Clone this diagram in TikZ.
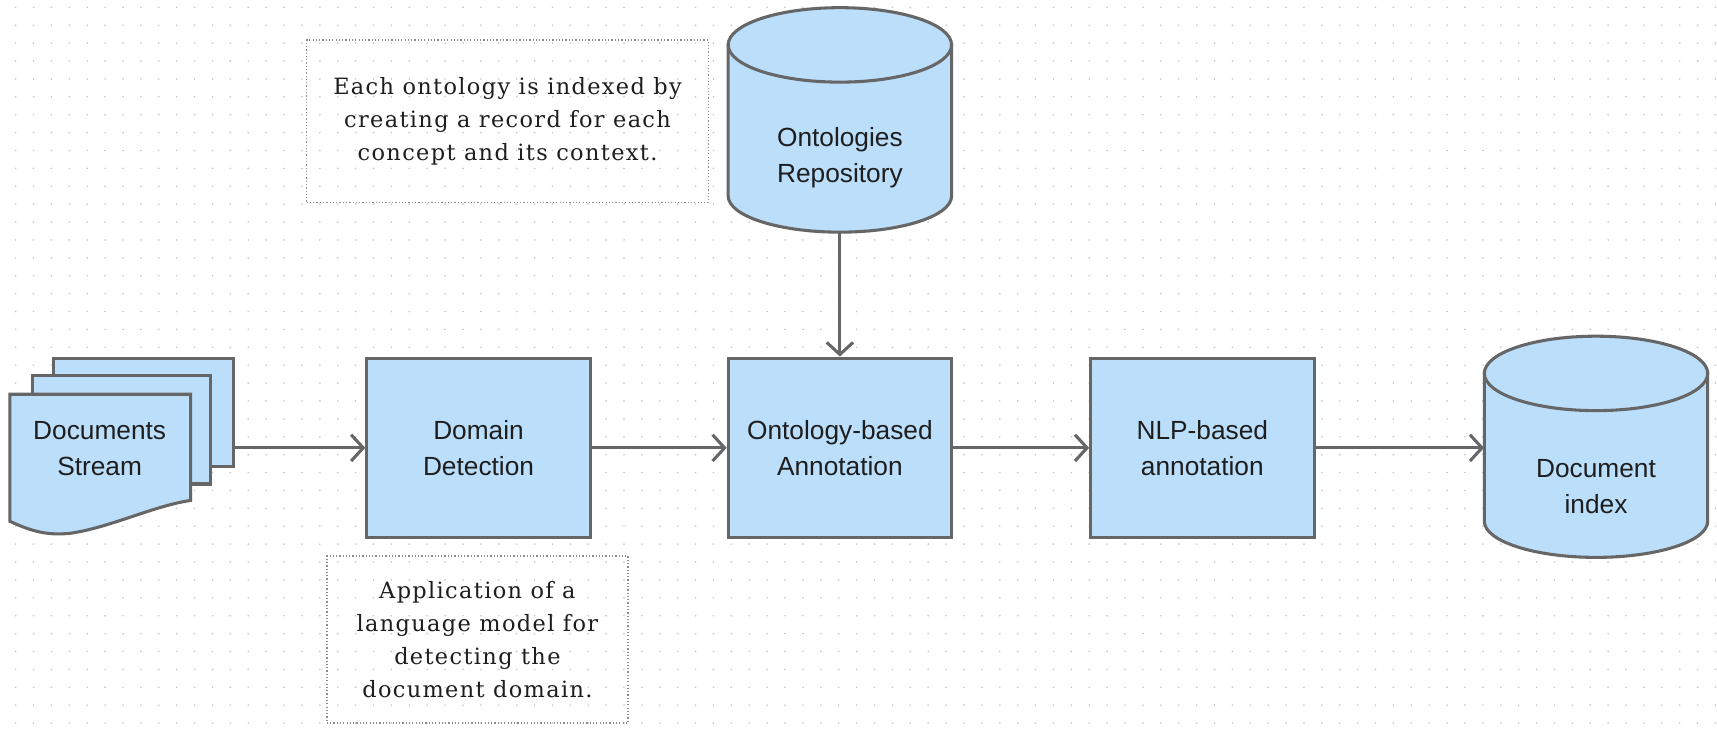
\documentclass[tikz,border=0pt]{standalone}
\usepackage{fontspec}
\setmainfont{Liberation Serif}
\newfontfamily\boxfont{Liberation Sans}
\newfontfamily\notefont[LetterSpace=6]{DejaVu Serif}
\usetikzlibrary{arrows.meta}
\definecolor{fillblue}{RGB}{187,222,251}
\definecolor{edgecol}{RGB}{102,102,102}
\definecolor{gridcol}{RGB}{200,200,200}
\definecolor{notecol}{RGB}{140,140,140}
\definecolor{txtcol}{RGB}{30,30,30}
\tikzset{
  shapeline/.style={draw=edgecol, line width=2.8pt, fill=fillblue, line join=miter},
  procbox/.style={shapeline, rectangle, minimum width=204pt, minimum height=164pt, inner sep=0pt,
    align=center, text=txtcol, font=\boxfont\fontsize{24}{33}\selectfont},
  sheet/.style={shapeline, rectangle, inner sep=0pt},
  boxlabel/.style={align=center, text=txtcol, font=\boxfont\fontsize{24}{33}\selectfont, inner sep=0pt},
  notebox/.style={draw=notecol, line width=1.3pt, dash pattern=on 1.1pt off 1.9pt, rectangle,
    inner sep=0pt, align=center, text=txtcol, font=\notefont\fontsize{20.5}{30}\selectfont},
  flow/.style={draw=edgecol, line width=2.8pt, -{Straight Barb[length=11pt,width=24pt,line width=2.8pt]}},
  holder/.style={rectangle, inner sep=0pt, draw=none}
}
\begin{document}
\begin{tikzpicture}[x=1pt,y=-1pt]
% canvas
\fill[white] (0,0) rectangle (1568,665);
\useasboundingbox (0,0) rectangle (1568,665);
% dotted grid
\foreach \i in {0,...,95}{
  \foreach \j in {0,...,40}{
    \fill[gridcol] (14.3+\i*16.34, 6.7+\j*16.34) circle[radius=0.85pt];
  }
}
% notes
\node[notebox, minimum width=367pt, minimum height=148.5pt] (note1) at (463.5,110.8)
  {Each ontology is indexed by\\creating a record for each\\concept and its context.};
\node[notebox, minimum width=275pt, minimum height=152.5pt] (note2) at (436,584)
  {Application of a\\language model for\\detecting the\\document domain.};
% documents stream
\node[sheet, minimum width=164pt, minimum height=99pt] (back) at (131,376.5) {};
\node[sheet, minimum width=162.4pt, minimum height=99pt] (mid) at (110.8,392.5) {};
\path[shapeline] (9,360) -- (174,360) -- (174,457)
  .. controls (140,462) and (100,482) .. (64,487)
  .. controls (45,489) and (30,486) .. (9,476) -- cycle;
\node[boxlabel] (docs) at (91,410) {Documents\\Stream};
% process boxes
\node[procbox] (dd) at (437,409) {Domain\\Detection};
\node[procbox] (oa) at (767,409) {Ontology-based\\Annotation};
\node[procbox] (nlp) at (1098,409) {NLP-based\\annotation};
% ontologies repository cylinder
\node[holder, minimum width=204pt, minimum height=205pt] (repo) at (767,109.5) {};
\path[shapeline] (665,41) -- (665,179) arc[start angle=180, end angle=360, x radius=102pt, y radius=33pt] -- (869,41) -- cycle;
\path[shapeline] (767,41) ellipse[x radius=102pt, y radius=34pt];
\node[boxlabel] (repotext) at (767,144) {Ontologies\\Repository};
% document index cylinder
\node[holder, minimum width=204pt, minimum height=202pt] (idx) at (1457.5,408) {};
\path[shapeline] (1355.5,341) -- (1355.5,476) arc[start angle=180, end angle=360, x radius=102pt, y radius=33pt] -- (1559.5,341) -- cycle;
\path[shapeline] (1457.5,341) ellipse[x radius=102pt, y radius=34pt];
\node[boxlabel] (idxtext) at (1457.5,444) {Document\\index};
% connectors
\draw[flow] (back.east |- dd.west) -- (dd.west);
\draw[flow] (dd.east) -- (oa.west);
\draw[flow] (oa.east) -- (nlp.west);
\draw[flow] (nlp.east) -- (nlp.east -| idx.west);
\draw[flow] (repo.south) -- (oa.north);
\end{tikzpicture}
\end{document}
